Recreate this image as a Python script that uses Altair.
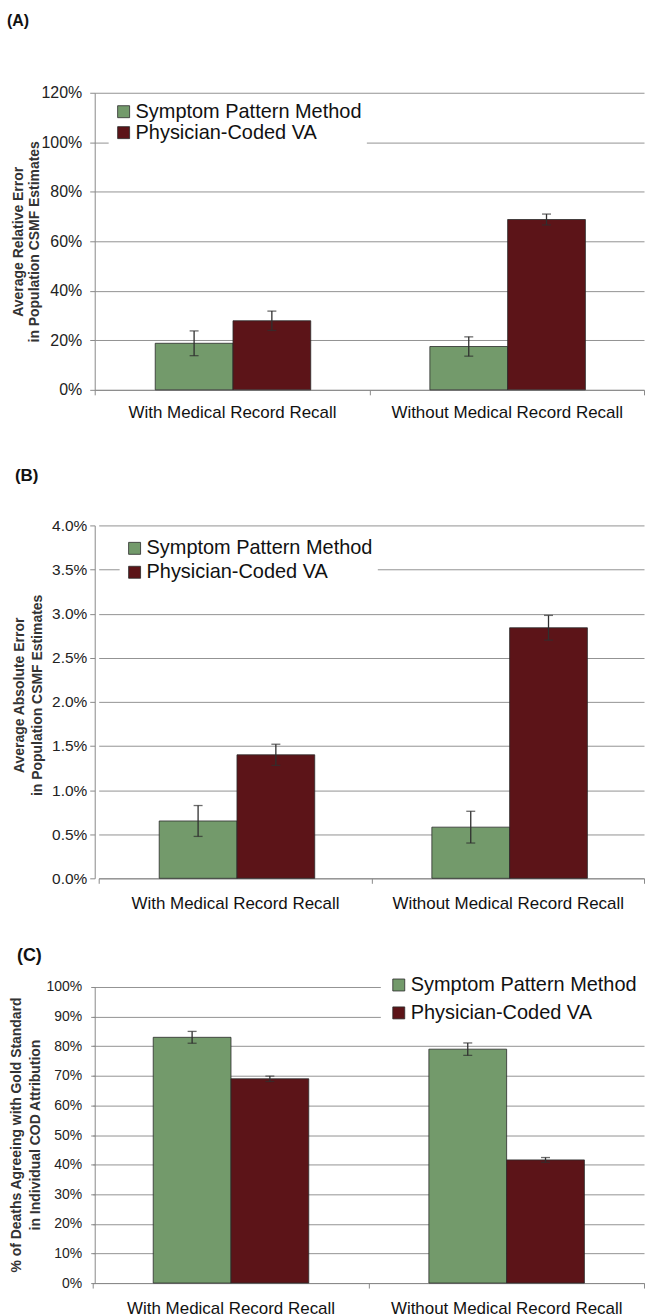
import altair as alt
import pandas as pd

FONT = "Liberation Sans"

categories = ["With Medical Record Recall", "Without Medical Record Recall"]
methods = ["Symptom Pattern Method", "Physician-Coded VA"]
method_colors = ["#739a6b", "#5c1418"]

# (A) average relative error in population CSMF estimates (%), with error-bar half widths
rel_spm = [18.8, 17.5]
rel_spm_err = [5.0, 3.9]
rel_pcva = [27.9, 68.8]
rel_pcva_err = [3.9, 2.2]

# (B) average absolute error in population CSMF estimates (%)
abs_spm = [0.65, 0.58]
abs_spm_err = [0.175, 0.18]
abs_pcva = [1.40, 2.84]
abs_pcva_err = [0.12, 0.14]

# (C) % of deaths agreeing with gold standard in individual COD attribution
agree_spm = [83.0, 79.0]
agree_spm_err = [2.0, 2.1]
agree_pcva = [69.0, 41.6]
agree_pcva_err = [0.9, 0.8]

rel_ticks = [0, 20, 40, 60, 80, 100, 120]
abs_ticks = [0, 0.5, 1.0, 1.5, 2.0, 2.5, 3.0, 3.5, 4.0]
agree_ticks = [0, 10, 20, 30, 40, 50, 60, 70, 80, 90, 100]


def frame(spm, spm_err, pcva, pcva_err):
    rows = []
    for i, cat in enumerate(categories):
        for m, v, e in ((methods[0], spm[i], spm_err[i]),
                        (methods[1], pcva[i], pcva_err[i])):
            rows.append({"category": cat, "method": m, "value": v,
                         "lo": v - e, "hi": v + e})
    return pd.DataFrame(rows)


def panel(df, *, label, label_size, label_offset, label_dx, y_title, y_domain,
          y_ticks, y_fmt, tick_font, tick_pad, tick_size, title_x, title_y,
          title_lh, x_range, off_pad, off_align, x_lpad, height, leg_x, leg_y,
          leg_pad, leg_row, gap_below=0):
    # a blank x-axis title keeps extra room under the category labels
    x_title_opts = {}
    if gap_below:
        x_title_opts = dict(title=" ", titleFontSize=1, titlePadding=gap_below)
    x = alt.X("category:N", sort=categories,
              scale=alt.Scale(range=x_range, paddingInner=0, paddingOuter=0),
              axis=alt.Axis(labelAngle=0, labelFontSize=17, labelFont=FONT,
                            labelColor="#111", labelPadding=x_lpad,
                            labelLimit=400, tickBand="extent", ticks=True,
                            tickSize=5, tickColor="#8a8a8a",
                            domainColor="#8a8a8a", grid=False,
                            **x_title_opts))
    if not gap_below:
        x = x.title(None)
    xo = alt.XOffset("method:N", sort=methods,
                     scale=alt.Scale(paddingInner=0, paddingOuter=off_pad,
                                     align=off_align))
    y_scale = alt.Scale(domain=y_domain, nice=False, zero=True)
    y_axis = alt.Axis(values=y_ticks, labelExpr=y_fmt,
                      labelFontSize=tick_font, labelFont=FONT,
                      labelColor="#222", labelPadding=tick_pad,
                      tickSize=tick_size, tickColor="#8a8a8a",
                      domainColor="#8a8a8a", gridColor="#939393",
                      gridWidth=1, title=y_title, titleFont=FONT,
                      titleFontSize=14, titleFontWeight="bold",
                      titleColor="#333", titleX=title_x,
                      titleY=title_y, titleAngle=270,
                      titleBaseline="top", titleAlign="center",
                      titleLineHeight=title_lh)
    color = alt.Color("method:N", sort=methods,
                      scale=alt.Scale(domain=methods, range=method_colors),
                      legend=alt.Legend(title=None, orient="none",
                                        legendX=leg_x, legendY=leg_y,
                                        symbolType="square", symbolSize=144,
                                        symbolStrokeColor="#2b2b2b",
                                        symbolStrokeWidth=0.8,
                                        labelFontSize=20, labelFont=FONT,
                                        labelColor="#111", labelLimit=400,
                                        labelOffset=2, rowPadding=leg_row,
                                        padding=leg_pad, fillColor="white"))
    base = alt.Chart(df)
    bars = base.mark_bar(stroke="#2b2b2b", strokeWidth=0.8).encode(
        x=x, xOffset=xo,
        y=alt.Y("value:Q", scale=y_scale, axis=y_axis), color=color)
    whisker = base.mark_rule(color="#2f2f2f", strokeWidth=1.3).encode(
        x=x, xOffset=xo,
        y=alt.Y("lo:Q", scale=y_scale, axis=y_axis), y2="hi:Q")
    cap_hi = base.mark_tick(color="#2f2f2f", size=9, thickness=1.3).encode(
        x=x, xOffset=xo, y=alt.Y("hi:Q", scale=y_scale, axis=y_axis))
    cap_lo = base.mark_tick(color="#2f2f2f", size=9, thickness=1.3).encode(
        x=x, xOffset=xo, y=alt.Y("lo:Q", scale=y_scale, axis=y_axis))
    return alt.layer(bars, whisker, cap_hi, cap_lo).properties(
        width=551, height=height,
        title=alt.TitleParams(text=label, anchor="start", frame="group",
                              fontSize=label_size, font=FONT,
                              fontWeight="bold", color="#111",
                              offset=label_offset, dx=label_dx,
                              baseline="bottom", align="left"))


panel_a = panel(
    frame(rel_spm, rel_spm_err, rel_pcva, rel_pcva_err),
    label="(A)", label_size=16, label_offset=40, label_dx=-88,
    y_title=["Average Relative Error", "in Population CSMF Estimates"],
    y_domain=[0, 120], y_ticks=rel_ticks, y_fmt="datum.value + '%'",
    tick_font=16, tick_pad=8, tick_size=5, title_x=-83.5, title_y=149,
    title_lh=16, x_range=[0, 551], off_pad=0.766, off_align=0.508,
    x_lpad=10, height=298, leg_x=14, leg_y=4, leg_pad=5, leg_row=1,
    gap_below=9)

panel_b = panel(
    frame(abs_spm, abs_spm_err, abs_pcva, abs_pcva_err),
    label="(B)", label_size=17, label_offset=17, label_dx=-80,
    y_title=["Average Absolute Error", "in Population CSMF Estimates"],
    y_domain=[0, 4], y_ticks=abs_ticks,
    y_fmt="format(datum.value, '.1f') + '%'",
    tick_font=15.5, tick_pad=3, tick_size=5, title_x=-82.3, title_y=170,
    title_lh=18, x_range=[4, 551], off_pad=0.731, off_align=0.517,
    x_lpad=12, height=354, leg_x=25, leg_y=8, leg_pad=5, leg_row=4)

panel_c = panel(
    frame(agree_spm, agree_spm_err, agree_pcva, agree_pcva_err),
    label="(C)", label_size=18, label_offset=-16, label_dx=-78,
    y_title=["% of Deaths Agreeing with Gold Standard",
             "in Individual COD Attribution"],
    y_domain=[0, 100], y_ticks=agree_ticks, y_fmt="datum.value + '%'",
    tick_font=14, tick_pad=9, tick_size=4, title_x=-85.7, title_y=148,
    title_lh=19, x_range=[-2, 551], off_pad=0.728, off_align=0.52,
    x_lpad=13, height=297, leg_x=287, leg_y=-20, leg_pad=8, leg_row=8)

chart = alt.vconcat(panel_a, panel_b, panel_c, spacing=36).resolve_scale(
    color="independent"
).properties(
    padding={"left": 7, "top": 11, "right": 0, "bottom": 0},
    background="white",
).configure_view(stroke=None)

chart.save("out.html", embed_options={"renderer": "svg", "actions": False})
